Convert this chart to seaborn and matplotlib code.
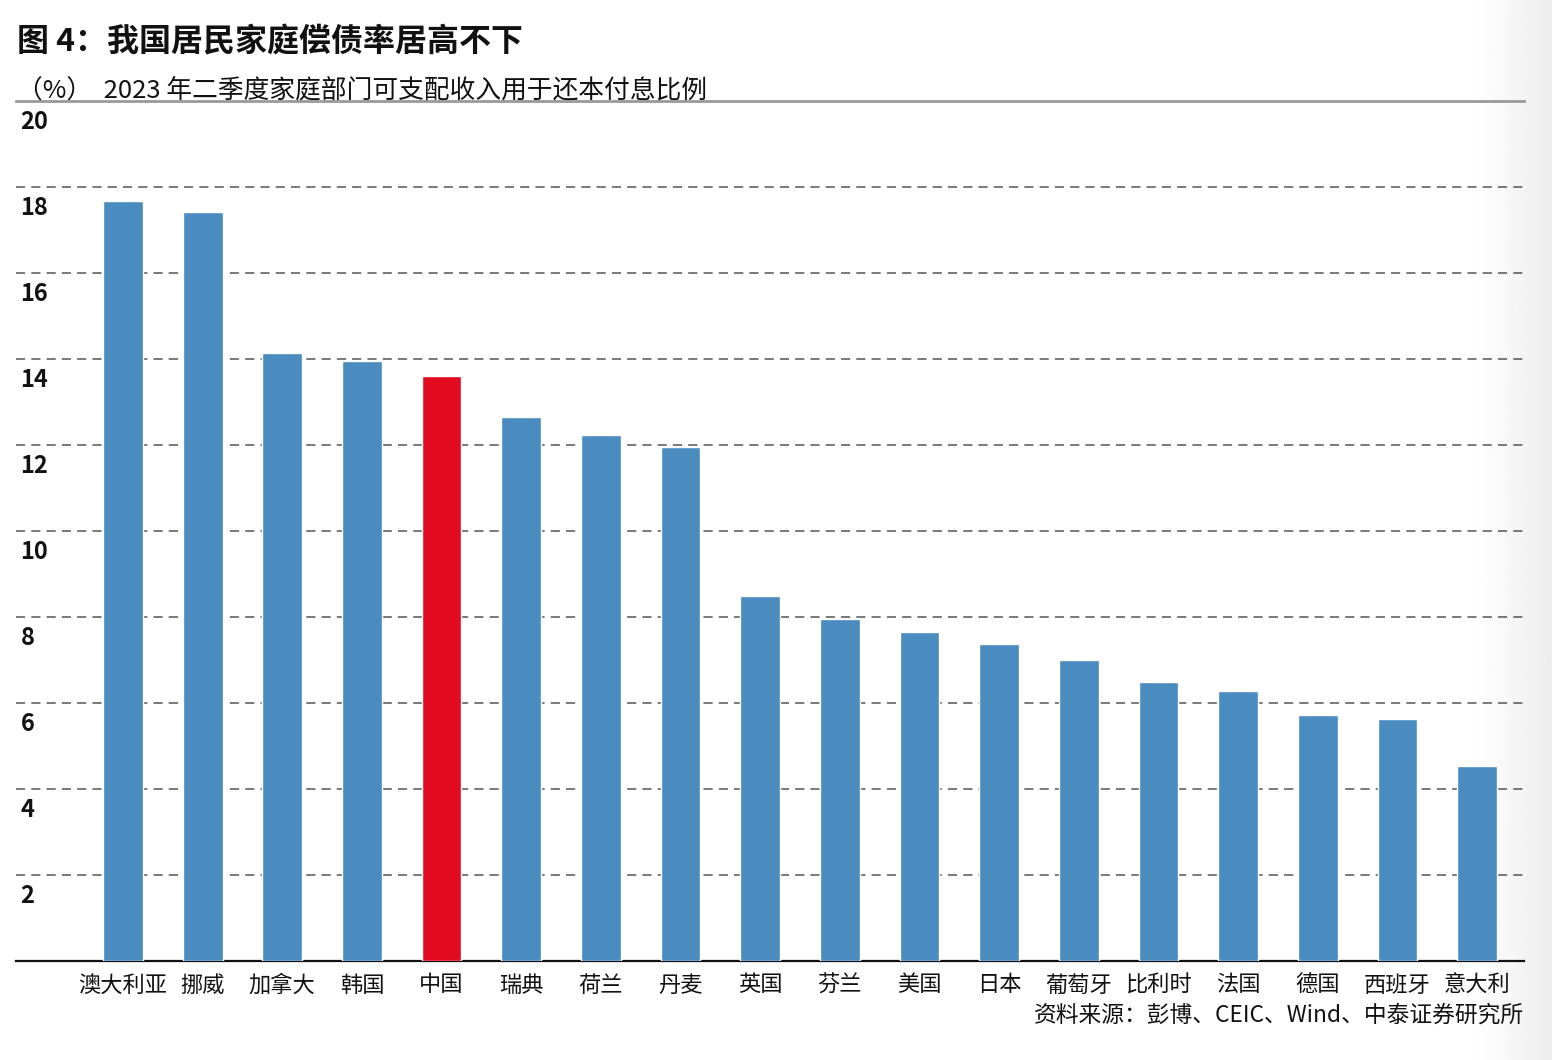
import numpy as np
import pandas as pd
import seaborn as sns
import matplotlib.pyplot as plt

# data
countries = ["澳大利亚", "挪威", "加拿大", "韩国", "中国", "瑞典", "荷兰", "丹麦", "英国",
             "芬兰", "美国", "日本", "葡萄牙", "比利时", "法国", "德国", "西班牙", "意大利"]
ratios = [17.67, 17.42, 14.14, 13.95, 13.60, 12.65, 12.23, 11.95, 8.49,
          7.95, 7.65, 7.37, 7.00, 6.49, 6.28, 5.72, 5.63, 4.53]
yticks = [2, 4, 6, 8, 10, 12, 14, 16, 18, 20]
highlight = "中国"

title = "图 4：我国居民家庭偿债率居高不下"
subtitle = "（%）  2023 年二季度家庭部门可支配收入用于还本付息比例"
source = "资料来源：彭博、CEIC、Wind、中泰证券研究所"

BLUE = "#4A8BC0"
RED = "#E30B20"

sns.set_theme(style="white")
plt.rcParams["font.family"] = ["Noto Sans CJK SC", "DejaVu Sans"]

df = pd.DataFrame({"country": countries, "ratio": ratios})
palette = {c: (RED if c == highlight else BLUE) for c in countries}

fig = plt.figure(figsize=(15.52, 10.6), dpi=100)

# faint page shadow on the right edge
bg = fig.add_axes([0.95, 0, 0.05, 1], zorder=-5)
shade = np.linspace(1.0, 0.93, 50).reshape(1, -1)
bg.imshow(shade, cmap="gray", vmin=0, vmax=1, aspect="auto", extent=[0, 1, 0, 1])
bg.axis("off")

ax = fig.add_axes([0.0103, 0.0934, 0.9717, 0.8113])
ax.patch.set_alpha(0)

sns.barplot(data=df, x="country", y="ratio", hue="country", palette=palette,
            width=0.5, legend=False, saturation=1, ax=ax, zorder=3)

ax.set_ylim(0, 20)
ax.set_xlim(-1.343, 17.59)

# dashed grid lines below 20, solid gray line at top
for v in yticks[:-1]:
    ax.axhline(v, color="#555555", lw=1.1, ls=(0, (6, 4)), zorder=1)
for v in yticks:
    ax.text(0.003, v - 0.2, str(v), transform=ax.get_yaxis_transform(),
            ha="left", va="top", fontsize=17, fontweight="bold", color="#111111")

for side in ["left", "right"]:
    ax.spines[side].set_visible(False)
ax.spines["top"].set_color("#999999")
ax.spines["top"].set_linewidth(2)
ax.spines["bottom"].set_color("#111111")
ax.spines["bottom"].set_linewidth(1.6)

ax.set_yticks([])
ax.set_xlabel("")
ax.set_ylabel("")
ax.tick_params(axis="x", length=0, pad=9, labelsize=16, labelcolor="#111111")

fig.text(0.011, 0.960, title, ha="left", va="center", fontsize=23, fontweight="bold", color="#111111")
fig.text(0.011, 0.915, subtitle, ha="left", va="center", fontsize=18.5, color="#111111")
fig.text(0.982, 0.042, source, ha="right", va="center", fontsize=16.4, color="#111111")

fig.savefig("out.png", dpi=100, facecolor="white")
